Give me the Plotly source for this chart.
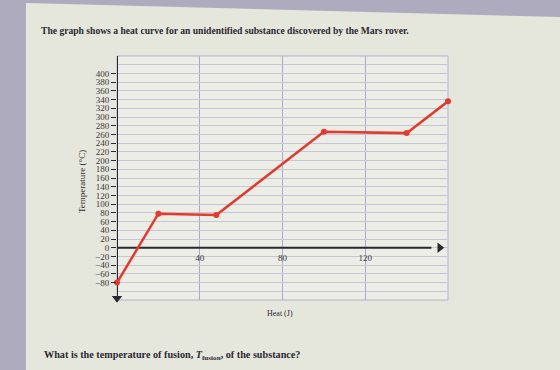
import plotly.graph_objects as go

# ---- data ----
heat = [0, 20, 48, 100, 140, 160]
temp = [-80, 78, 75, 266, 263, 336]
y_ticks = list(range(-80, 401, 20))
x_ticks = [40, 80, 120]
x_range = [0, 160]
y_range = [-120, 440]

title_text = "The graph shows a heat curve for an unidentified substance discovered by the Mars rover."
question_text = "What is the temperature of fusion, <i>T</i><sub>fusion</sub>, of the substance?"

W, H = 560, 370
ML, MR, MT, MB = 117, 112, 56, 70
PW, PH = W - ML - MR, H - MT - MB

def px(x):
    return (x - ML) / PW

def py(y):
    return 1 - (y - MT) / PH

SERIF = "Liberation Serif, Times New Roman, serif"
DARK = "#2b2733"
HGRID = "#c6c5dc"
VGRID = "#a9a8d0"

fig = go.Figure()

# axis arrowheads (axes drawn as lines below)
fig.add_trace(go.Scatter(
    x=[0, 0, 156], y=[446, -116, 0], mode="markers",
    marker=dict(symbol=["triangle-up", "triangle-down", "triangle-right"],
                size=9, color=DARK, line=dict(width=0)),
    cliponaxis=False, showlegend=False, hoverinfo="skip",
))

fig.add_trace(go.Scatter(
    x=heat, y=temp, mode="lines+markers",
    line=dict(color="#e33a2f", width=2.5),
    marker=dict(color="#e33a2f", size=6),
    cliponaxis=False, showlegend=False, hoverinfo="skip",
))

shapes = [
    # page of paper
    dict(type="path", xref="paper", yref="paper", layer="below",
         path=f"M {px(26)} {py(3)} L {px(560)} {py(17)} L {px(560)} {py(370)} L {px(26)} {py(370)} Z",
         fillcolor="#e6e7dc", line=dict(width=0)),
    # plot area background
    dict(type="rect", xref="paper", yref="paper", layer="below",
         x0=0, x1=1, y0=0, y1=1, fillcolor="#ecede4", line=dict(width=0)),
    # plot box border
    dict(type="rect", xref="paper", yref="paper", layer="between",
         x0=0, x1=1, y0=0, y1=1, fillcolor="rgba(0,0,0,0)", line=dict(color="#b3b2d0", width=1)),
    # x axis line at T = 0
    dict(type="line", xref="x", yref="y", layer="between",
         x0=0, x1=152, y0=0, y1=0, line=dict(color=DARK, width=2)),
    # y axis line
    dict(type="line", xref="x", yref="y", layer="between",
         x0=0, x1=0, y0=-112, y1=442, line=dict(color=DARK, width=2)),
]

annotations = [
    dict(text=title_text, xref="paper", yref="paper", x=px(39), y=py(30),
         xanchor="left", yanchor="middle", showarrow=False,
         font=dict(family=SERIF, size=9.6, color=DARK, weight="bold")),
    dict(text=question_text, xref="paper", yref="paper", x=px(42), y=py(355),
         xanchor="left", yanchor="middle", showarrow=False,
         font=dict(family=SERIF, size=10.2, color=DARK, weight="bold")),
    dict(text="Heat (J)", xref="paper", yref="paper", x=px(280), y=py(313),
         xanchor="center", yanchor="middle", showarrow=False,
         font=dict(family=SERIF, size=8, color=DARK)),
    dict(text="Temperature (°C)", xref="paper", yref="paper", x=px(82), y=py(182),
         xanchor="center", yanchor="middle", showarrow=False, textangle=-90,
         font=dict(family=SERIF, size=9, color=DARK)),
]

fig.update_layout(
    width=W, height=H,
    margin=dict(l=ML, r=MR, t=MT, b=MB, pad=0),
    paper_bgcolor="#aeabbf",
    plot_bgcolor="rgba(0,0,0,0)",
    shapes=shapes,
    annotations=annotations,
    xaxis=dict(
        range=x_range, tickvals=x_ticks, ticks="", showgrid=True,
        gridcolor=VGRID, gridwidth=1, zeroline=False,
        anchor="free", position=(0 - y_range[0]) / (y_range[1] - y_range[0]),
        showline=False,
        tickfont=dict(family=SERIF, size=9, color="#3a3640"),
        ticklabelstandoff=3,
    ),
    yaxis=dict(
        range=y_range, tickvals=y_ticks, ticks="outside", ticklen=5,
        tickcolor=DARK, tickwidth=1,
        showgrid=True, gridcolor=HGRID, gridwidth=1, zeroline=False,
        minor=dict(dtick=20, tick0=0, showgrid=True, gridcolor=HGRID, ticklen=0),
        showline=False,
        tickfont=dict(family=SERIF, size=9, color="#3a3640"),
    ),
)

fig.write_html("out.html")
